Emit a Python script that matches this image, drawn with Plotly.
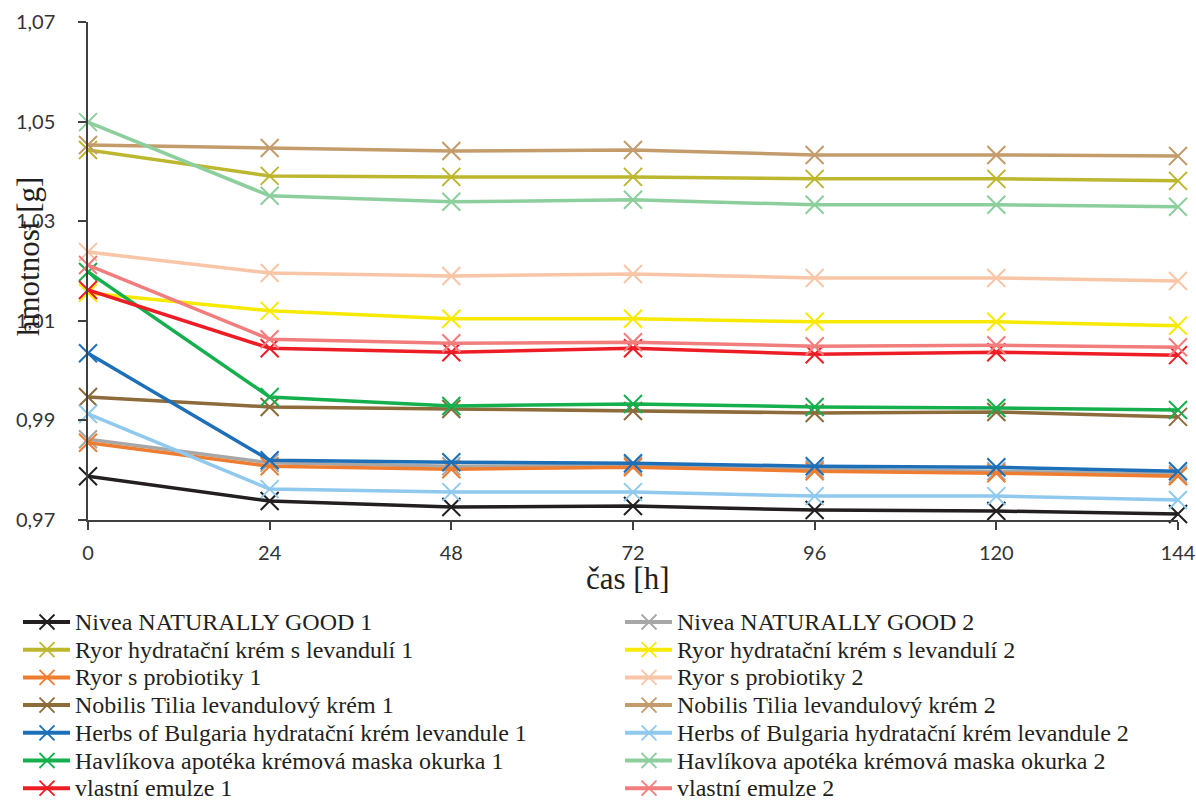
import plotly.graph_objects as go

# čas [h]
cas = [0, 24, 48, 72, 96, 120, 144]

# názvy vzorků
nazvy = [
    "Nivea NATURALLY GOOD 1", "Nivea NATURALLY GOOD 2",
    "Ryor hydratační krém s levandulí 1", "Ryor hydratační krém s levandulí 2",
    "Ryor s probiotiky 1", "Ryor s probiotiky 2",
    "Nobilis Tilia levandulový krém 1", "Nobilis Tilia levandulový krém 2",
    "Herbs of Bulgaria hydratační krém levandule 1", "Herbs of Bulgaria hydratační krém levandule 2",
    "Havlíkova apotéka krémová maska okurka 1", "Havlíkova apotéka krémová maska okurka 2",
    "vlastní emulze 1", "vlastní emulze 2",
]

# hmotnost [g]
nivea_1 = [0.9788, 0.9738, 0.9726, 0.9728, 0.9720, 0.9718, 0.9712]
nivea_2 = [0.9862, 0.9815, 0.9808, 0.9810, 0.9802, 0.9798, 0.9792]
ryor_lev_1 = [1.0443, 1.0391, 1.0389, 1.0389, 1.0385, 1.0385, 1.0381]
ryor_lev_2 = [1.0156, 1.0120, 1.0104, 1.0104, 1.0098, 1.0098, 1.0090]
ryor_pro_1 = [0.9855, 0.9808, 0.9802, 0.9806, 0.9798, 0.9794, 0.9788]
ryor_pro_2 = [1.0238, 1.0196, 1.0190, 1.0194, 1.0186, 1.0186, 1.0180]
nobilis_1 = [0.9947, 0.9927, 0.9923, 0.9919, 0.9915, 0.9917, 0.9907]
nobilis_2 = [1.0453, 1.0447, 1.0441, 1.0443, 1.0433, 1.0433, 1.0431]
herbs_1 = [1.0035, 0.9820, 0.9816, 0.9814, 0.9808, 0.9806, 0.9798]
herbs_2 = [0.9913, 0.9762, 0.9756, 0.9756, 0.9748, 0.9748, 0.9740]
havlik_1 = [1.0198, 0.9947, 0.9929, 0.9933, 0.9927, 0.9925, 0.9921]
havlik_2 = [1.0499, 1.0351, 1.0339, 1.0343, 1.0333, 1.0333, 1.0329]
vlastni_1 = [1.0162, 1.0045, 1.0037, 1.0045, 1.0033, 1.0037, 1.0031]
vlastni_2 = [1.0212, 1.0063, 1.0055, 1.0057, 1.0049, 1.0051, 1.0047]

data = [nivea_1, nivea_2, ryor_lev_1, ryor_lev_2, ryor_pro_1, ryor_pro_2,
        nobilis_1, nobilis_2, herbs_1, herbs_2, havlik_1, havlik_2,
        vlastni_1, vlastni_2]

barvy = ['#231f20', '#a7a7a7', '#bdb62f', '#f7ea00', '#ee7d31', '#f8c5a6',
         '#8d6b3b', '#c49c6c', '#1d6fb8', '#8fc9ee', '#15b04d', '#8ccf9d',
         '#ee1c25', '#f27d7d']

SERIF = 'Liberation Serif, Times New Roman, DejaVu Serif, serif'

W, H = 1196, 801
# oblast grafu v pixelech
PX0, PX1, PY0, PY1 = 88, 1178, 22, 520
# legenda: 2 sloupce, řádky po 27.7 px
LEG_X0, LEG_COL, LEG_Y0, LEG_ROW = 23, 602, 622, 27.7

fig = go.Figure()

for nazev, y, c in zip(nazvy, data, barvy):
    fig.add_trace(go.Scatter(
        x=cas,
        y=y,
        mode='lines+markers',
        name=nazev,
        line=dict(color=c, width=3.5),
        marker=dict(symbol='x-thin', size=18, color=c, line=dict(color=c, width=2)),
        cliponaxis=False,
        showlegend=False
    ))

# vlastní legenda (vzorek čáry + popisek)
anotace = []
for i, (nazev, c) in enumerate(zip(nazvy, barvy)):
    sl, rd = i % 2, i // 2
    x0 = LEG_X0 + sl * LEG_COL
    yy = LEG_Y0 + rd * LEG_ROW
    fig.add_trace(go.Scatter(
        x=[x0, x0 + 47], y=[yy, yy], xaxis='x2', yaxis='y2',
        mode='lines', line=dict(color=c, width=4), showlegend=False,
        hoverinfo='skip'
    ))
    fig.add_trace(go.Scatter(
        x=[x0 + 24], y=[yy], xaxis='x2', yaxis='y2',
        mode='markers', marker=dict(symbol='x-thin', size=15, line=dict(color=c, width=1.8)),
        showlegend=False, hoverinfo='skip'
    ))
    anotace.append(dict(
        text=nazev, xref='x2', yref='y2', x=x0 + 50, y=yy,
        xanchor='left', yanchor='middle', showarrow=False,
        font=dict(family=SERIF, size=24, color='#231f20')
    ))

osa = dict(
    showgrid=False,
    zeroline=False,
    showline=True,
    linecolor='#404040',
    linewidth=1.5,
    tickcolor='#404040',
    tickwidth=1.5,
    automargin=False,
)

fig.update_layout(
    width=W,
    height=H,
    autosize=False,
    separators=', ',
    paper_bgcolor='white',
    plot_bgcolor='rgba(0,0,0,0)',
    margin=dict(l=0, r=0, t=0, b=0, pad=0),
    showlegend=False,
    font=dict(family='Lato', size=20, color='#333333'),
    xaxis=dict(
        domain=[PX0 / W, PX1 / W],
        anchor='y',
        range=[0, 144],
        tickvals=cas,
        ticks='outside',
        ticklen=8,
        ticklabelstandoff=6,
        ticklabeloverflow='allow',
        **osa
    ),
    yaxis=dict(
        domain=[1 - PY1 / H, 1 - PY0 / H],
        anchor='x',
        range=[0.97, 1.07],
        dtick=0.02,
        tick0=0.97,
        tickformat='.2f',
        ticks='outside',
        ticklen=8,
        ticklabelstandoff=19,
        ticklabeloverflow='allow',
        **osa
    ),
    # druhé osy pro vnitřní část křížových značek
    xaxis3=dict(
        overlaying='x', anchor='y', range=[0, 144], tickvals=cas,
        ticks='inside', ticklen=8, showticklabels=False, **osa
    ),
    yaxis3=dict(
        overlaying='y', anchor='x', range=[0.97, 1.07], dtick=0.02, tick0=0.97,
        ticks='inside', ticklen=8, showticklabels=False, **osa
    ),
    # osy pro legendu v pixelech
    xaxis2=dict(domain=[0, 1], range=[0, W], visible=False, anchor='y2',
                fixedrange=True, automargin=False),
    yaxis2=dict(domain=[0, 1], range=[H, 0], visible=False, anchor='x2',
                fixedrange=True, automargin=False),
    annotations=anotace + [
        dict(text='hmotnost [g]', xref='x2', yref='y2', x=28, y=257,
             xanchor='center', yanchor='middle', textangle=-90, showarrow=False,
             font=dict(family=SERIF, size=31, color='#231f20')),
        dict(text='čas [h]', xref='x2', yref='y2', x=627, y=578,
             xanchor='center', yanchor='middle', showarrow=False,
             font=dict(family=SERIF, size=31, color='#231f20')),
    ]
)

# bez okraje stránky, aby graf seděl přesně do okna
fig.write_html("out.html",
               config={'displayModeBar': False},
               post_script="document.body.style.margin='0';document.body.style.overflow='hidden';")
